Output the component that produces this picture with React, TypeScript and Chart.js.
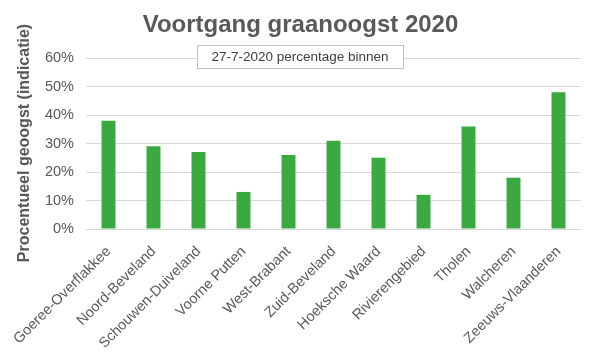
import React, { useEffect, useRef } from "react";
import { Chart, registerables } from "chart.js";

Chart.register(...registerables);

const categories = [
  "Goeree-Overflakkee",
  "Noord-Beveland",
  "Schouwen-Duiveland",
  "Voorne Putten",
  "West-Brabant",
  "Zuid-Beveland",
  "Hoeksche Waard",
  "Rivierengebied",
  "Tholen",
  "Walcheren",
  "Zeeuws-Vlaanderen",
];
const percentBinnen = [38, 29, 27, 13, 26, 31, 25, 12, 36, 18, 48];
const chartTitle = "Voortgang graanoogst 2020";
const legendText = "27-7-2020 percentage binnen";
const yAxisTitle = "Procentueel geoogst (indicatie)";

const FONT = "'Liberation Sans', Arial, sans-serif";

const decorPlugin = {
  id: "decor",
  afterDraw(chart: any) {
    const ctx = chart.ctx;
    ctx.save();
    // Title
    ctx.fillStyle = "#595959";
    ctx.font = `bold 24px ${FONT}`;
    ctx.textAlign = "center";
    ctx.textBaseline = "alphabetic";
    ctx.fillText(chartTitle, 300.5, 32);
    // Legend-like box
    ctx.font = `13.5px ${FONT}`;
    ctx.textBaseline = "middle";
    const w = 206;
    const h = 23;
    const x0 = 197;
    const y0 = 45;
    ctx.fillStyle = "#ffffff";
    ctx.fillRect(x0, y0, w, h);
    ctx.strokeStyle = "#bfbfbf";
    ctx.lineWidth = 1;
    ctx.strokeRect(x0 + 0.5, y0 + 0.5, w, h);
    ctx.fillStyle = "#404040";
    ctx.fillText(legendText, x0 + w / 2, y0 + h / 2 + 1);
    // Y axis title
    ctx.translate(29, 143);
    ctx.rotate(-Math.PI / 2);
    ctx.font = `bold 16px ${FONT}`;
    ctx.textBaseline = "alphabetic";
    ctx.fillStyle = "#595959";
    ctx.fillText(yAxisTitle, 0, 0);
    ctx.restore();
  },
};

export default function App() {
  const ref = useRef<HTMLCanvasElement>(null);
  useEffect(() => {
    if (!ref.current) return;
    const chart = new Chart(ref.current, {
      type: "bar",
      data: {
        labels: categories,
        datasets: [
          {
            label: legendText,
            data: percentBinnen,
            backgroundColor: "#3aaa40",
            categoryPercentage: 1,
            barPercentage: 0.31,
          },
        ],
      },
      options: {
        animation: false,
        responsive: true,
        maintainAspectRatio: false,
        layout: { padding: { top: 58, right: 14, left: 0, bottom: 0 } },
        plugins: {
          legend: { display: false },
          title: { display: false },
          tooltip: { enabled: false },
        },
        scales: {
          x: {
            grid: { display: false, drawTicks: false },
            border: { display: true, color: "#d9d9d9" },
            ticks: {
              color: "#595959",
              font: { family: FONT, size: 14.5 },
              minRotation: 45,
              maxRotation: 45,
              autoSkip: false,
              padding: 14,
            },
            afterFit: (s: any) => {
              s.height = 129;
              s.paddingLeft = 0;
              s.paddingRight = 0;
            },
          },
          y: {
            min: 0,
            max: 60,
            ticks: {
              stepSize: 10,
              color: "#595959",
              font: { family: FONT, size: 14.5 },
              padding: 12,
              callback: (v: any) => v + "%",
            },
            grid: { color: "#d9d9d9", drawTicks: false },
            border: { display: false },
            afterFit: (s: any) => {
              s.width = 86;
            },
          },
        },
      },
      plugins: [decorPlugin],
    });
    return () => chart.destroy();
  }, []);
  return (
    <div style={{ position: "fixed", left: 0, top: 0, width: 595, height: 358, background: "#fff" }}>
      <canvas ref={ref} />
    </div>
  );
}
